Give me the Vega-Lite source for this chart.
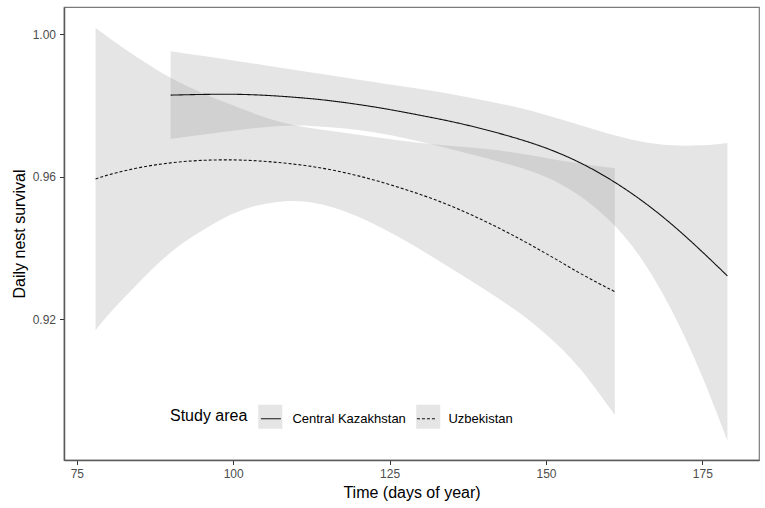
{
  "$schema": "https://vega.github.io/schema/vega-lite/v6.json",
  "width": 695,
  "height": 453,
  "autosize": {"type": "none"},
  "padding": {"left": 64, "top": 7, "right": 6, "bottom": 48},
  "background": "white",
  "config": {
    "view": {"stroke": "#7a7a7a", "strokeWidth": 1.2},
    "font": "Liberation Sans",
    "axis": {
      "grid": false,
      "domainColor": "#5a5a5a",
      "domainWidth": 1.5,
      "tickColor": "#333333",
      "tickSize": 4.5,
      "labelFont": "Liberation Sans",
      "labelFontSize": 12,
      "labelColor": "#4d4d4d",
      "labelPadding": 4,
      "titleFont": "Liberation Sans",
      "titleFontSize": 16,
      "titleFontWeight": "normal",
      "titleColor": "#000000"
    }
  },
  "data": {
    "values": [
      {"area": "Central Kazakhstan", "day": 90, "est": 0.9829, "lo": 0.9706, "hi": 0.9952},
      {"area": "Central Kazakhstan", "day": 95, "est": 0.9831, "lo": 0.9718, "hi": 0.9939},
      {"area": "Central Kazakhstan", "day": 100, "est": 0.9832, "lo": 0.9729, "hi": 0.9926},
      {"area": "Central Kazakhstan", "day": 105, "est": 0.9829, "lo": 0.974, "hi": 0.9913},
      {"area": "Central Kazakhstan", "day": 110, "est": 0.9823, "lo": 0.9746, "hi": 0.9899},
      {"area": "Central Kazakhstan", "day": 115, "est": 0.9815, "lo": 0.974, "hi": 0.9886},
      {"area": "Central Kazakhstan", "day": 120, "est": 0.9803, "lo": 0.9732, "hi": 0.9872},
      {"area": "Central Kazakhstan", "day": 125, "est": 0.9789, "lo": 0.9718, "hi": 0.9859},
      {"area": "Central Kazakhstan", "day": 130, "est": 0.9772, "lo": 0.9699, "hi": 0.9846},
      {"area": "Central Kazakhstan", "day": 135, "est": 0.9755, "lo": 0.9677, "hi": 0.9832},
      {"area": "Central Kazakhstan", "day": 140, "est": 0.9734, "lo": 0.9654, "hi": 0.9815},
      {"area": "Central Kazakhstan", "day": 145, "est": 0.971, "lo": 0.9631, "hi": 0.9797},
      {"area": "Central Kazakhstan", "day": 150, "est": 0.9682, "lo": 0.9603, "hi": 0.9774},
      {"area": "Central Kazakhstan", "day": 155, "est": 0.9645, "lo": 0.9555, "hi": 0.9747},
      {"area": "Central Kazakhstan", "day": 160, "est": 0.9597, "lo": 0.9485, "hi": 0.972},
      {"area": "Central Kazakhstan", "day": 165, "est": 0.9539, "lo": 0.9385, "hi": 0.9698},
      {"area": "Central Kazakhstan", "day": 170, "est": 0.947, "lo": 0.9235, "hi": 0.9686},
      {"area": "Central Kazakhstan", "day": 175, "est": 0.939, "lo": 0.9045, "hi": 0.9687},
      {"area": "Central Kazakhstan", "day": 179, "est": 0.9322, "lo": 0.886, "hi": 0.9695},
      {"area": "Uzbekistan", "day": 78, "est": 0.9594, "lo": 0.917, "hi": 1.0017},
      {"area": "Uzbekistan", "day": 80, "est": 0.9606, "lo": 0.9214, "hi": 0.9991},
      {"area": "Uzbekistan", "day": 85, "est": 0.9627, "lo": 0.9306, "hi": 0.993},
      {"area": "Uzbekistan", "day": 90, "est": 0.964, "lo": 0.9393, "hi": 0.9875},
      {"area": "Uzbekistan", "day": 95, "est": 0.9647, "lo": 0.945, "hi": 0.9834},
      {"area": "Uzbekistan", "day": 100, "est": 0.9648, "lo": 0.95, "hi": 0.98},
      {"area": "Uzbekistan", "day": 104, "est": 0.9645, "lo": 0.9522, "hi": 0.9772},
      {"area": "Uzbekistan", "day": 108, "est": 0.9639, "lo": 0.9533, "hi": 0.975},
      {"area": "Uzbekistan", "day": 112, "est": 0.9631, "lo": 0.9532, "hi": 0.9737},
      {"area": "Uzbekistan", "day": 116, "est": 0.9619, "lo": 0.9516, "hi": 0.9728},
      {"area": "Uzbekistan", "day": 120, "est": 0.9603, "lo": 0.9489, "hi": 0.9718},
      {"area": "Uzbekistan", "day": 124, "est": 0.9584, "lo": 0.9455, "hi": 0.9708},
      {"area": "Uzbekistan", "day": 128, "est": 0.9562, "lo": 0.9416, "hi": 0.9699},
      {"area": "Uzbekistan", "day": 132, "est": 0.9538, "lo": 0.9374, "hi": 0.9691},
      {"area": "Uzbekistan", "day": 136, "est": 0.951, "lo": 0.933, "hi": 0.9685},
      {"area": "Uzbekistan", "day": 140, "est": 0.9478, "lo": 0.9286, "hi": 0.9679},
      {"area": "Uzbekistan", "day": 144, "est": 0.9443, "lo": 0.9241, "hi": 0.9671},
      {"area": "Uzbekistan", "day": 148, "est": 0.9405, "lo": 0.919, "hi": 0.9659},
      {"area": "Uzbekistan", "day": 152, "est": 0.9365, "lo": 0.9128, "hi": 0.9646},
      {"area": "Uzbekistan", "day": 156, "est": 0.9323, "lo": 0.9055, "hi": 0.9635},
      {"area": "Uzbekistan", "day": 161, "est": 0.9278, "lo": 0.8932, "hi": 0.9624}
    ]
  },
  "encoding": {
    "x": {
      "field": "day",
      "type": "quantitative",
      "scale": {"domain": [72.95, 184.05], "nice": false, "zero": false},
      "axis": {
        "values": [75, 100, 125, 150, 175],
        "title": "Time (days of year)",
        "titleBaseline": "alphabetic",
        "titleY": 37
      }
    }
  },
  "layer": [
    {
      "mark": {"type": "area", "opacity": 0.25, "interpolate": "basis"},
      "encoding": {
        "y": {
          "field": "lo",
          "type": "quantitative",
          "scale": {"domain": [0.8806, 1.0076], "nice": false, "zero": false},
          "axis": {
            "values": [0.92, 0.96, 1.0],
            "format": ".2f",
            "title": "Daily nest survival",
            "titleBaseline": "alphabetic",
            "titleX": -40
          }
        },
        "y2": {"field": "hi"},
        "fill": {
          "field": "area",
          "type": "nominal",
          "scale": {
            "domain": ["Central Kazakhstan", "Uzbekistan"],
            "range": ["#999999", "#999999"]
          },
          "legend": {
            "orient": "none",
            "legendX": 193.8,
            "legendY": 397,
            "direction": "horizontal",
            "title": null,
            "padding": 0,
            "symbolType": "square",
            "symbolSize": 576,
            "symbolStrokeWidth": 1,
            "symbolStrokeColor": "transparent",
            "symbolOpacity": 0.25,
            "labelExpr": "''",
            "labelOffset": 0,
            "labelFontSize": 13,
            "columnPadding": 128.9,
            "zindex": 0
          }
        }
      }
    },
    {
      "mark": {"type": "line", "color": "#111111", "strokeWidth": 1.1, "interpolate": "basis"},
      "encoding": {
        "y": {"field": "est", "type": "quantitative"},
        "strokeDash": {
          "field": "area",
          "type": "nominal",
          "scale": {"range": [[1, 0], [3, 2]]},
          "legend": {
            "orient": "none",
            "legendX": 106,
            "legendY": 399,
            "direction": "horizontal",
            "title": "Study area",
            "titleOrient": "left",
            "titleAnchor": "middle",
            "titleBaseline": "middle",
            "titleFontSize": 16,
            "titleFontWeight": "normal",
            "titleColor": "#000000",
            "titlePadding": 10.4,
            "padding": 0,
            "symbolType": "M-0.83,0H0.83",
            "symbolSize": 576,
            "symbolStrokeWidth": 1,
            "symbolStrokeColor": "#111111",
            "symbolFillColor": "transparent",
            "labelFontSize": 13,
            "labelColor": "#000000",
            "labelOffset": 9,
            "columnPadding": 8,
            "zindex": 2
          }
        }
      }
    }
  ]
}
